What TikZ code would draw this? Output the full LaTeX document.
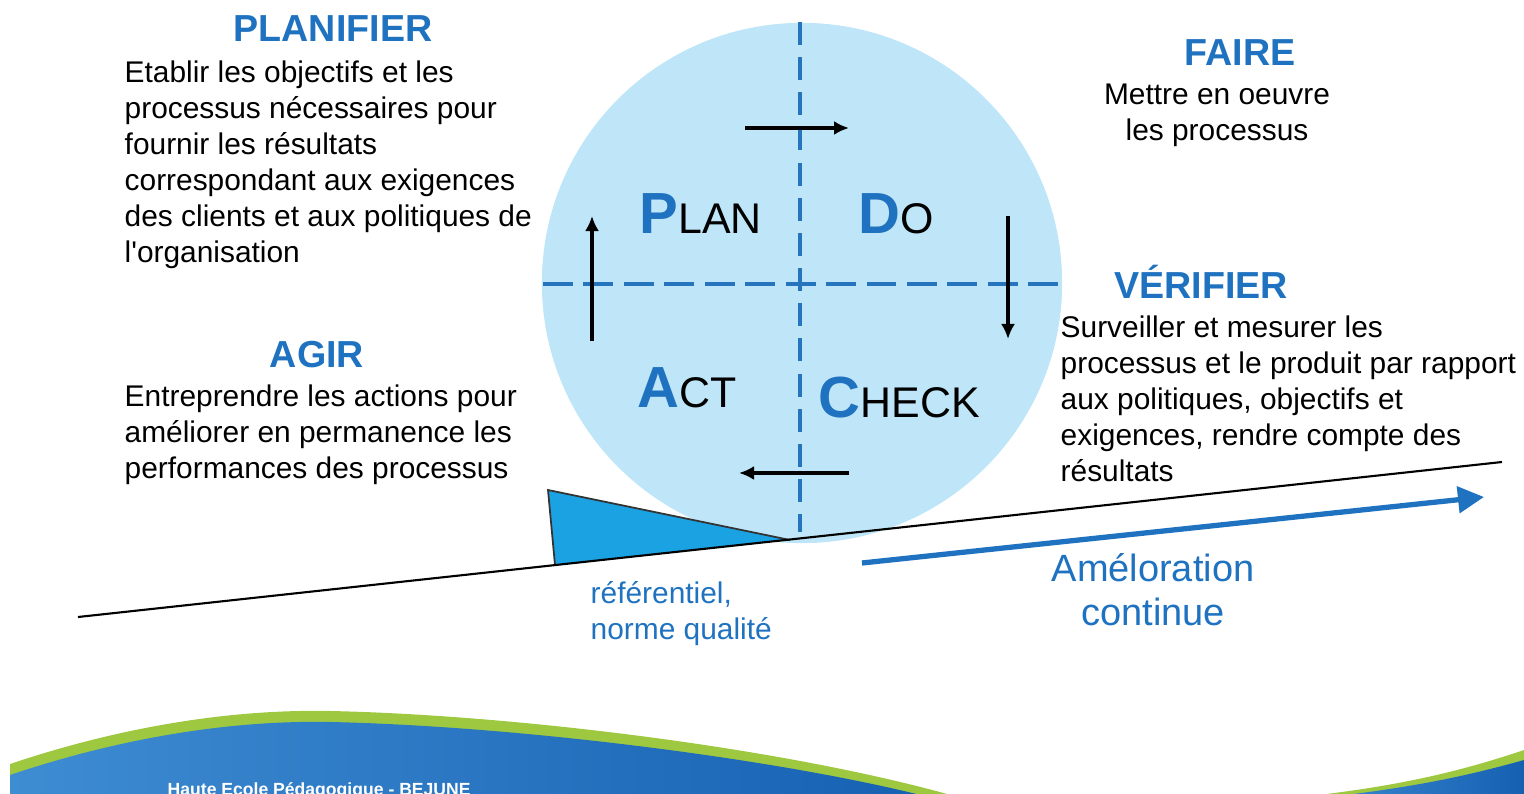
\documentclass[tikz,border=0pt]{standalone}
\usepackage{fontspec}
\setmainfont{Liberation Sans}[Ligatures=TeXOff]
\usepackage{tikz}
\usetikzlibrary{arrows.meta,positioning,calc}

\definecolor{hepblue}{RGB}{31,114,192}
\definecolor{circleblue}{RGB}{190,230,248}
\definecolor{dashblue}{RGB}{38,116,190}
\definecolor{wedgeblue}{RGB}{27,162,226}
\definecolor{bannerlight}{RGB}{62,140,210}
\definecolor{bannerdark}{RGB}{22,96,178}
\definecolor{bannergreen}{RGB}{158,200,64}

\newcommand{\bodyfont}{\fontsize{8.5}{10.24}\selectfont}
\newcommand{\headfont}{\fontsize{10.7}{12}\selectfont\bfseries}
\newcommand{\pdca}[2]{{\fontsize{16.5}{18}\selectfont\bfseries\color{hepblue}#1}{\fontsize{12.2}{14}\selectfont #2}}

\begin{document}
\begin{tikzpicture}[x=0.01cm,y=-0.01cm,
  head/.style={font=\headfont,text=hepblue,inner sep=0pt,anchor=base},
  body/.style={font=\bodyfont,align=left,inner sep=0pt,anchor=north west},
  quadrant/.style={inner sep=0pt,anchor=base west},
  axis/.style={dashblue,line width=1.4pt},
  turn/.style={line width=1.1pt,-{Latex[length=0.15cm,width=0.14cm]}}]
  \useasboundingbox (0,0) rectangle (1524,794);

  % bandeau du bas
  \fill[bannergreen] (10,800) -- (10,764) .. controls (120,727) and (230,709) .. (330,711)
    .. controls (520,715) and (800,750) .. (968,800) -- cycle;
  \shade[left color=bannerlight,right color=bannerdark] (10,800) -- (10,775)
    .. controls (120,738) and (230,720) .. (330,722)
    .. controls (520,726) and (790,760) .. (940,800) -- cycle;
  \fill[bannergreen] (1270,800) .. controls (1380,790) and (1450,775) .. (1524,750) -- (1524,800) -- cycle;
  \shade[left color=bannerlight,right color=bannerdark] (1300,800) .. controls (1400,790) and (1460,778) .. (1524,760) -- (1524,800) -- cycle;
  \node[font=\fontsize{5}{6}\selectfont\bfseries,text=white,inner sep=0pt,anchor=base west] (school) at (167,795) {Haute Ecole Pédagogique - BEJUNE};

  % roue
  \node[circle,fill=circleblue,minimum size=5.2cm,inner sep=0pt] (wheel) at (802,283) {};
  \draw[axis,dash pattern=on 6.5pt off 3.5pt] (800,22) -- (800,532);
  \draw[axis,dash pattern=on 8.5pt off 3pt] (543,284) -- (1058,284);

  \draw[turn] (745,128) -- (849,128);
  \draw[turn] (1008,216) -- (1008,339);
  \draw[turn] (849,473) -- (739,473);
  \draw[turn] (592,341) -- (592,216);

  \node[quadrant] (plan)  at (639,234) {\pdca{P}{LAN}};
  \node[quadrant] (do)    at (858,234) {\pdca{D}{O}};
  \node[quadrant] (act)   at (637,407) {\pdca{A}{CT}};
  \node[quadrant] (check) at (818,417) {\pdca{C}{HECK}};

  % plan incline et cale
  \coordinate (groundL) at (78,617);
  \coordinate (groundR) at (1502,462);
  \coordinate (wedgeT) at (548,490);
  \coordinate (wedgeB) at (555,565);
  \coordinate (wedgeC) at (790,540);
  \fill[wedgeblue] (wedgeT) -- (wedgeB) -- (wedgeC) -- cycle;
  \draw[black!80,line width=0.5pt] (wedgeB) -- (wedgeT) -- (wedgeC);
  \draw[line width=0.6pt] (groundL) -- (groundR);

  \coordinate (progS) at (862,563);
  \coordinate (progE) at (1484,497);
  \draw[hepblue,line width=1.5pt,-{Triangle[length=0.26cm,width=0.26cm]}] (progS) -- (progE);

  % textes
  \node[head] (planifier) at (333,42) {PLANIFIER};
  \node[body] (planifiertxt) at (124,60) {Etablir les objectifs et les\\processus nécessaires pour\\fournir les résultats\\correspondant aux exigences\\des clients et aux politiques de\\l'organisation};

  \node[head] (agir) at (317,367) {AGIR};
  \node[body] (agirtxt) at (124,384) {Entreprendre les actions pour\\améliorer en permanence les\\performances des processus};

  \node[head] (faire) at (1240,66) {FAIRE};
  \node[body,align=center,anchor=north] (fairetxt) at (1217,83) {Mettre en oeuvre\\les processus};

  \node[head] (verifier) at (1201,298) {VÉRIFIER};
  \node[body] (verifiertxt) at (1060,315) {Surveiller et mesurer les\\processus et le produit par rapport\\aux politiques, objectifs et\\exigences, rendre compte des\\résultats};

  \node[body,text=hepblue] (norme) at (590,581) {référentiel,\\norme qualité};
  \node[font=\fontsize{10.8}{12.6}\selectfont,text=hepblue,align=center,inner sep=0pt,anchor=north] (amelioration) at (1153,553) {Améloration\\continue};
\end{tikzpicture}
\end{document}
